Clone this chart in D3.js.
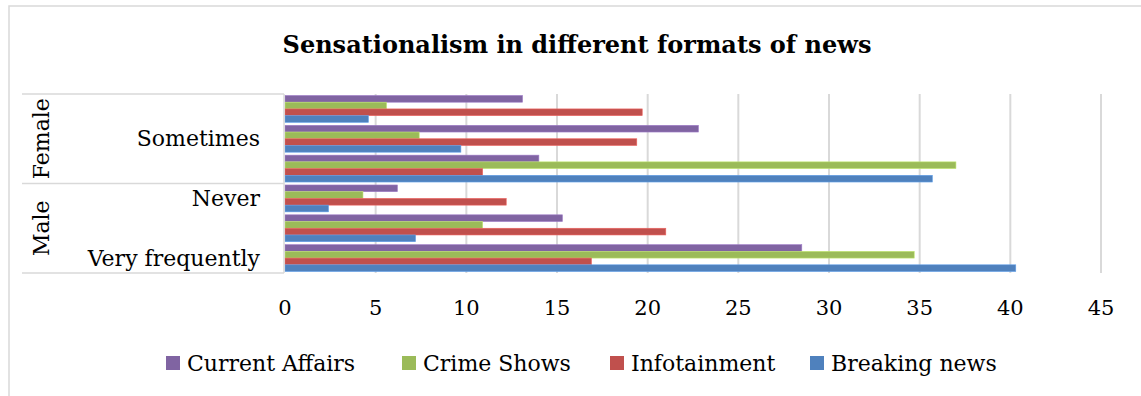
<!DOCTYPE html>
<html>
<head>
<meta charset="utf-8">
<script src="https://cdn.jsdelivr.net/npm/d3@7"></script>
<style>
  body { margin: 0; background: #fff; }
  svg text { font-family: "DejaVu Serif", serif; fill: #000; }
</style>
</head>
<body>
<div id="chart"></div>
<script>
// categories, top to bottom
let groups = ["Female", "Male"];
let categories = ["Never", "Sometimes", "Very frequently"];
let series = ["Current Affairs", "Crime Shows", "Infotainment", "Breaking news"];
let colors = ["#8064A2", "#9BBB59", "#C0504D", "#4F81BD"];

// values per row: Female-Never, Female-Sometimes, Female-Very frequently, Male-Never, Male-Sometimes, Male-Very frequently
let currentAffairs = [13.1, 22.8, 14.0, 6.2, 15.3, 28.5];
let crimeShows     = [5.6, 7.4, 37.0, 4.3, 10.9, 34.7];
let infotainment   = [19.7, 19.4, 10.9, 12.2, 21.0, 16.9];
let breakingNews   = [4.6, 9.7, 35.7, 2.4, 7.2, 40.3];
let xTicks = [0, 5, 10, 15, 20, 25, 30, 35, 40, 45];

let values = [currentAffairs, crimeShows, infotainment, breakingNews];
let rows = [];
groups.forEach(function (g) {
    categories.forEach(function (c) { rows.push(g + "|" + c); });
});

let width = 1141, height = 396;
let plot = { left: 285, right: 1101, top: 94, bottom: 273 };

let svg = d3.select("#chart").append("svg")
    .attr("width", width)
    .attr("height", height);

// chart frame
svg.append("rect")
    .attr("x", 9).attr("y", 6)
    .attr("width", width + 20).attr("height", height + 20)
    .style("fill", "none")
    .style("stroke", "#d9d9d9")
    .style("stroke-width", 1.5);

svg.append("text")
    .attr("x", 577).attr("y", 53)
    .attr("text-anchor", "middle")
    .attr("font-size", "24px")
    .attr("font-weight", "bold")
    .text("Sensationalism in different formats of news");

let x = d3.scaleLinear().domain([0, 45]).range([plot.left, plot.right]);
let y = d3.scaleBand().domain(rows).range([plot.top, plot.bottom]);
let ySub = d3.scaleBand().domain(series).range([0, y.bandwidth()]).paddingOuter(0.22);

// gridlines
svg.append("g").selectAll("line")
    .data(xTicks.slice(1))
    .enter()
    .append("line")
    .attr("x1", x).attr("x2", x)
    .attr("y1", plot.top).attr("y2", plot.bottom)
    .style("stroke", "#d9d9d9")
    .style("stroke-width", 2);

// bars
let bars = svg.append("g");
rows.forEach(function (r, i) {
    series.forEach(function (s, k) {
        bars.append("rect")
            .attr("x", x(0))
            .attr("y", y(r) + ySub(s))
            .attr("width", x(values[k][i]) - x(0))
            .attr("height", ySub.bandwidth())
            .style("fill", colors[k])
            .style("stroke", d3.color(colors[k]).brighter(0.6))
            .style("stroke-width", 0.6);
    });
});

// x axis labels
svg.append("g").selectAll("text")
    .data(xTicks)
    .enter()
    .append("text")
    .attr("x", x)
    .attr("y", 315)
    .attr("text-anchor", "middle")
    .attr("font-size", "21px")
    .text(function (d) { return d; });

// category table lines
let boxLeft = 22;
let lines = svg.append("g").style("stroke", "#d9d9d9").style("stroke-width", 1.5);
[plot.top, y(rows[3]), plot.bottom].forEach(function (yy) {
    lines.append("line").attr("x1", boxLeft).attr("x2", plot.left - 1).attr("y1", yy).attr("y2", yy);
});
lines.append("line").attr("x1", plot.left - 1).attr("x2", plot.left - 1).attr("y1", plot.top).attr("y2", plot.bottom);

// category labels (every other one, as the original skips labels)
rows.forEach(function (r, i) {
    if ((rows.length - 1 - i) % 2 !== 0) return;
    svg.append("text")
        .attr("x", 260)
        .attr("y", y(r) + y.bandwidth() / 2)
        .attr("dy", "0.35em")
        .attr("text-anchor", "end")
        .attr("font-size", "22px")
        .text(r.split("|")[1]);
});

// group labels
groups.forEach(function (g, gi) {
    let y0 = y(rows[gi * 3]);
    let y1 = y(rows[gi * 3 + 2]) + y.bandwidth();
    svg.append("text")
        .attr("transform", "translate(41," + ((y0 + y1) / 2) + ") rotate(-90)")
        .attr("dy", "0.35em")
        .attr("text-anchor", "middle")
        .attr("font-size", "22px")
        .text(g);
});

// legend
let legendX = [166, 402, 610, 810];
let legend = svg.append("g");
series.forEach(function (s, k) {
    legend.append("rect")
        .attr("x", legendX[k]).attr("y", 356)
        .attr("width", 14).attr("height", 14)
        .style("fill", colors[k]);
    legend.append("text")
        .attr("x", legendX[k] + 21)
        .attr("y", 363)
        .attr("dy", "0.35em")
        .attr("font-size", "22px")
        .text(s);
});
</script>
</body>
</html>
